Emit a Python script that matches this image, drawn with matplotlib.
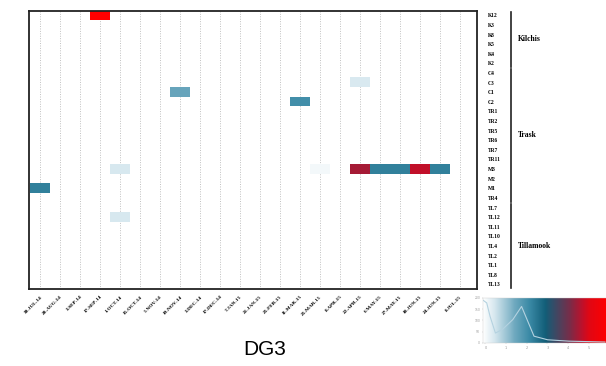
import numpy as np
import matplotlib
matplotlib.use("Agg")
import matplotlib.pyplot as plt
from matplotlib.colors import LinearSegmentedColormap
import matplotlib.transforms as mtransforms

# sample dates (columns) and sites (rows)
dates = ["30-JUL-14", "20-AUG-14", "3-SEP-14", "17-SEP-14", "1-OCT-14", "15-OCT-14",
         "5-NOV-14", "19-NOV-14", "3-DEC-14", "17-DEC-14", "7-JAN-15", "21-JAN-15",
         "25-FEB-15", "11-MAR-15", "25-MAR-15", "8-APR-15", "22-APR-15", "6-MAY-15",
         "27-MAY-15", "10-JUN-15", "24-JUN-15", "8-JUL-15"]
sites = ["K12", "K3", "K8", "K5", "K4", "K2",
         "C4", "C3", "C1", "C2", "TR1", "TR2", "TR5", "TR6", "TR7", "TR11", "M3", "M2", "M1", "TR4",
         "TL7", "TL12", "TL11", "TL10", "TL4", "TL2", "TL1", "TL8", "TL13"]
groups = ["Kilchis", "Trask", "Tillamook"]
group_rows = [(0, 5), (6, 19), (20, 28)]

# non-zero cells: (site, date, scaled value)
hit_site = ["K12", "C1", "C2", "C3", "M3", "M3", "M3", "M3", "M3", "M3", "M3", "M1", "TL12"]
hit_date = ["17-SEP-14", "19-NOV-14", "11-MAR-15", "22-APR-15",
            "1-OCT-14", "25-MAR-15", "22-APR-15", "6-MAY-15", "27-MAY-15", "10-JUN-15", "24-JUN-15",
            "30-JUL-14", "1-OCT-14"]
hit_value = [1.0, 0.42, 0.5, 0.13, 0.14, 0.04, 0.86, 0.55, 0.55, 0.9, 0.55, 0.55, 0.14]

# colour key: density curve and the key's position -> value stretch
key_x = [0.0, 0.03, 0.057, 0.10, 0.156, 0.24, 0.31, 0.354, 0.41, 0.52, 0.69, 0.98]
key_y = [0.95, 0.89, 0.59, 0.22, 0.30, 0.52, 0.81, 0.52, 0.15, 0.07, 0.04, 0.02]
key_pos = [0.0, 0.25, 0.5, 0.7, 0.85, 1.0]
key_val = [0.0, 0.4, 0.65, 0.8, 0.95, 1.0]
key_ticks = ["0", "1", "2", "3", "4", "5"]

cmap = LinearSegmentedColormap.from_list(
    "dg", [(0.0, "#ffffff"), (0.15, "#d4e6ee"), (0.35, "#86b7ca"), (0.52, "#3b8aa6"),
           (0.65, "#125e78"), (0.8, "#7a2c48"), (0.9, "#c0102a"), (1.0, "#ff0000")])

grid = np.full((len(sites), len(dates)), np.nan)
for s, d, v in zip(hit_site, hit_date, hit_value):
    grid[sites.index(s), dates.index(d)] = v

fig = plt.figure(figsize=(6.06, 3.66), dpi=100)
ax = fig.add_axes([0.048, 0.21, 0.739, 0.761])

for i in range(len(dates)):
    ax.axvline(i, color="#c0c0c0", lw=0.7, ls=(0, (1, 1.5)), zorder=0)

ax.imshow(np.ma.masked_invalid(grid), cmap=cmap, vmin=0, vmax=1, aspect="auto",
          interpolation="nearest", zorder=2)
ax.set_xlim(-0.55, 21.85)
ax.set_ylim(len(sites) - 0.5, -0.5)

ax.set_xticks(range(len(dates)))
ax.set_xticklabels(dates, rotation=45, ha="right", rotation_mode="anchor",
                   fontsize=3.8, family="Liberation Serif", fontweight="bold")
ax.set_yticks(range(len(sites)))
ax.set_yticklabels(sites, fontsize=4, family="Liberation Serif", fontweight="bold")
ax.yaxis.tick_right()
ax.tick_params(axis="both", length=0)
ax.tick_params(axis="y", pad=8)
ax.tick_params(axis="x", pad=4)
for sp in ax.spines.values():
    sp.set_linewidth(1.3)
    sp.set_color("#222222")

trans = mtransforms.blended_transform_factory(ax.transAxes, ax.transData)
for name, (r0, r1) in zip(groups, group_rows):
    ax.plot([1.076, 1.076], [r0 - 0.4, r1 + 0.4], transform=trans, color="#222222",
            lw=1.2, clip_on=False)
    ax.text(1.091, (r0 + r1) / 2, name, transform=trans, va="center", ha="left",
            fontsize=5.5, family="Liberation Serif", fontweight="bold")

# colour key
kax = fig.add_axes([0.797, 0.063, 0.23, 0.123])
pos = np.linspace(0, 1, 256)
kax.imshow(np.interp(pos, key_pos, key_val)[None, :], cmap=cmap, vmin=0, vmax=1,
           aspect="auto", extent=[0, 1, 0, 1])
kax.plot(key_x, key_y, color="#b4d2e0", lw=0.8)
kax.set_xlim(0, 1.12)
kax.set_ylim(0, 1)
kax.set_xticks(np.linspace(0.02, 0.85, len(key_ticks)))
kax.set_xticklabels(key_ticks, fontsize=2.5, color="#999999")
kax.set_yticks([0, 0.25, 0.5, 0.75, 1.0])
kax.set_yticklabels(["0", "50", "100", "150", "200"], fontsize=2.2, color="#999999")
kax.tick_params(length=1, width=0.3, color="#bbbbbb", pad=1)
for sp in kax.spines.values():
    sp.set_linewidth(0.3)
    sp.set_color("#cccccc")

fig.text(0.437, 0.044, "DG3", ha="center", va="center", fontsize=15,
         family="Liberation Sans")

plt.savefig("out.png", dpi=100)
